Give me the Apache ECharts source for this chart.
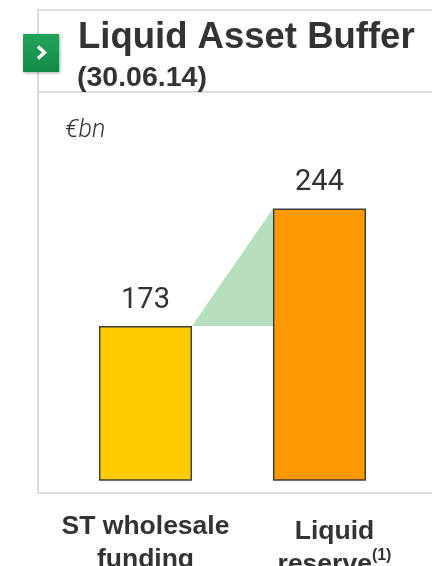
<!DOCTYPE html>
<html>
<head>
<meta charset="utf-8">
<script src="https://cdn.jsdelivr.net/npm/echarts@6/dist/echarts.min.js"></script>
<style>
html, body { margin: 0; padding: 0; background: #fff; }
#chart { width: 432px; height: 566px; }
</style>
</head>
<body>
<div id="chart"></div>
<script>
// chart data
var categories = ['ST wholesale\nfunding', 'Liquid\nreserve'];
var notes = ['', '(1)'];
var values = [173, 244];
var barColors = ['#FFCC00', '#FF9900'];
var barFrac = 0.535;

var textColor = '#333333';
var labelFont = '"Liberation Sans", Arial, sans-serif';
var numFont = 'Roboto, sans-serif';

var chart = echarts.init(document.getElementById('chart'));

var option = {
  backgroundColor: '#fff',
  animation: false,
  title: [
    {
      text: 'Liquid Asset Buffer',
      left: 73, top: 14,
      textStyle: { fontFamily: labelFont, fontSize: 36.5, fontWeight: 'bold', color: textColor }
    },
    {
      text: '(30.06.14)',
      left: 72, top: 59,
      textStyle: { fontFamily: labelFont, fontSize: 28.5, fontWeight: 'bold', color: textColor }
    },
    {
      text: '€bn',
      left: 60, top: 113,
      textStyle: { fontFamily: 'Roboto, sans-serif', fontSize: 25, fontWeight: 300, fontStyle: 'italic', color: textColor }
    }
  ],
  graphic: [
    {
      type: 'rect', z: 0, silent: true,
      shape: { x: 38, y: 10, width: 430, height: 483 },
      style: { fill: 'none', stroke: '#dcdcdc', lineWidth: 2 }
    },
    {
      type: 'line', z: 0, silent: true,
      shape: { x1: 38, y1: 92, x2: 432, y2: 92 },
      style: { stroke: '#dcdcdc', lineWidth: 2 }
    },
    {
      type: 'rect', z: 5, silent: true,
      shape: { x: 23, y: 34, width: 36, height: 38 },
      style: {
        fill: new echarts.graphic.LinearGradient(0, 0, 0, 1, [
          { offset: 0, color: '#22a35a' },
          { offset: 1, color: '#138a46' }
        ]),
        shadowBlur: 3, shadowColor: 'rgba(0,0,0,0.35)', shadowOffsetX: 1, shadowOffsetY: 1
      }
    },
    {
      type: 'polyline', z: 6, silent: true,
      shape: { points: [[38, 46.5], [44.5, 52.5], [38, 58.5]] },
      style: { stroke: '#fff', lineWidth: 3.5, fill: 'none' }
    }
  ],
  grid: { left: 58.5, right: 25.5, top: 182, bottom: 86, outerBoundsMode: 'none' },
  xAxis: {
    type: 'category',
    data: categories.map(function (c, i) {
      return i === 1 ? { value: c, textStyle: { padding: [5, 0, 0, 30] } } : c;
    }),
    axisLine: { show: false },
    axisTick: { show: false },
    axisLabel: {
      margin: 30,
      interval: 0,
      fontFamily: labelFont,
      formatter: function (val, idx) {
        var lines = val.split('\n');
        var last = lines.pop();
        var out = lines.map(function (l) { return '{a|' + l + '}'; });
        out.push('{a|' + last + '}' + (notes[idx] ? '{s|' + notes[idx] + '}' : ''));
        return out.join('\n');
      },
      rich: {
        a: { fontFamily: labelFont, fontSize: 26.5, fontWeight: 'bold', color: textColor, lineHeight: 33 },
        s: { fontFamily: labelFont, fontSize: 16, fontWeight: 'bold', color: textColor, lineHeight: 16, verticalAlign: 'top' }
      }
    }
  },
  yAxis: {
    type: 'value',
    min: 80,
    max: 260,
    show: false,
    splitLine: { show: false }
  },
  series: [
    {
      type: 'custom',
      z: 1,
      silent: true,
      data: [[0, values[0], 1, values[1]]],
      renderItem: function (params, api) {
        var hw = api.size([1, 0])[0] * barFrac / 2;
        var a = api.coord([api.value(0), api.value(1)]);
        var b = api.coord([api.value(2), api.value(3)]);
        return {
          type: 'polygon',
          shape: { points: [[a[0] + hw, a[1]], [b[0] - hw, b[1]], [b[0] - hw, a[1]]] },
          style: { fill: '#b8dfbd' }
        };
      }
    },
    {
      type: 'bar',
      z: 3,
      barWidth: (barFrac * 100) + '%',
      data: values.map(function (v, i) {
        return { value: v, itemStyle: { color: barColors[i] } };
      }),
      itemStyle: { borderColor: '#3d3d3d', borderWidth: 1.5 },
      label: {
        show: true,
        position: 'top',
        distance: 11,
        fontFamily: numFont,
        fontSize: 29,
        color: textColor
      }
    }
  ]
};

chart.setOption(option);
</script>
</body>
</html>
